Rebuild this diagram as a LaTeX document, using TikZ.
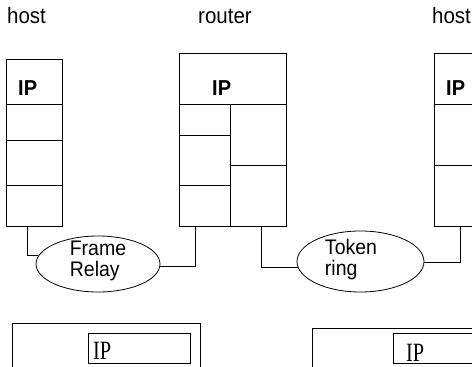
\documentclass[tikz,border=0pt]{standalone}
\usepackage{fontspec}
\setmainfont{Liberation Sans}
\newfontfamily\timesfont{Liberation Serif}
\usetikzlibrary{shapes.geometric}
\tikzset{
  line/.style={draw=black, line width=0.8pt},
  stackbox/.style={line, rectangle, inner sep=0pt},
  cloud/.style={line, ellipse, inner sep=0pt},
  title/.style={font=\fontsize{20.5}{22}\selectfont, inner sep=0pt, anchor=base west},
  iplabel/.style={font=\fontsize{20}{22}\selectfont\bfseries, inner sep=0pt, anchor=base west},
  netlabel/.style={font=\fontsize{19.5}{21}\selectfont, align=left, inner sep=0pt},
  seriflabel/.style={inner sep=0pt, anchor=base west},
}
\newcommand{\tallsans}[1]{\scalebox{1}[1.08]{#1}}
\newcommand{\serifip}{\timesfont\fontsize{22}{24}\selectfont\scalebox{0.92}[1.2]{IP}}
\begin{document}
\begin{tikzpicture}[x=1pt, y=-1pt]
  \useasboundingbox (0,0) rectangle (472,367);
  \clip (0,0) rectangle (472,367);

  % titles
  \node[title] (t1) at (7,23) {\tallsans{host}};
  \node[title] (t2) at (198,23) {\tallsans{router}};
  \node[title] (t3) at (432,23) {\tallsans{host}};

  % left host protocol stack
  \node[stackbox, minimum width=56pt, minimum height=167pt] (h1) at (34,142.5) {};
  \draw[line] (h1.west |- 0,104) -- (h1.east |- 0,104);
  \draw[line] (h1.west |- 0,140) -- (h1.east |- 0,140);
  \draw[line] (h1.west |- 0,185) -- (h1.east |- 0,185);
  \node[iplabel] (ip1) at (18,95) {\tallsans{IP}};

  % router protocol stack
  \node[stackbox, minimum width=107pt, minimum height=173pt] (r) at (232.5,139.5) {};
  \draw[line] (r.west |- 0,104) -- (r.east |- 0,104);
  \draw[line] (230,104) -- (r.south -| 230,0);
  \draw[line] (r.west |- 0,135) -- (230,135);
  \draw[line] (r.west |- 0,185) -- (230,185);
  \draw[line] (230,165) -- (r.east |- 0,165);
  \node[iplabel] (ip2) at (212,95) {\tallsans{IP}};

  % right host protocol stack
  \node[stackbox, minimum width=70pt, minimum height=173pt] (h2) at (469,139.5) {};
  \draw[line] (h2.west |- 0,104) -- (h2.east |- 0,104);
  \draw[line] (h2.west |- 0,165) -- (h2.east |- 0,165);
  \node[iplabel] (ip3) at (446,95) {\tallsans{IP}};

  % attachment points under the stacks
  \coordinate (h1leg) at (27,226);
  \coordinate (rleg1) at (195,226);
  \coordinate (rleg2) at (261,226);
  \coordinate (h2leg) at (460,226);

  % networks
  \node[cloud, minimum width=124pt, minimum height=56pt] (fr) at (98,264) {};
  \node[netlabel] (frtext) at (98,261) {\tallsans{Frame}\\\tallsans{Relay}};
  \node[cloud, minimum width=127pt, minimum height=61pt] (tr) at (360.5,261.5) {};
  \node[netlabel] (trtext) at (351,260) {\tallsans{Token}\\\tallsans{ring}};

  % links
  \draw[line] (h1leg) |- (fr.172);
  \draw[line] (fr.-2) -| (rleg1);
  \draw[line] (rleg2) |- (tr.185);
  \draw[line] (tr.-1) -| (h2leg);

  % lower boxes
  \node[stackbox, minimum width=188pt, minimum height=80pt, anchor=north west] (b1) at (12,323) {};
  \node[stackbox, minimum width=102pt, minimum height=30pt, anchor=north west] (b1ip) at (88,333) {};
  \node[seriflabel] (s1) at (93,359) {\serifip};
  \node[stackbox, minimum width=188pt, minimum height=80pt, anchor=north west] (b2) at (312,328) {};
  \node[stackbox, minimum width=110pt, minimum height=30pt, anchor=north west] (b2ip) at (393,333) {};
  \node[seriflabel] (s2) at (406,361) {\serifip};
\end{tikzpicture}
\end{document}
